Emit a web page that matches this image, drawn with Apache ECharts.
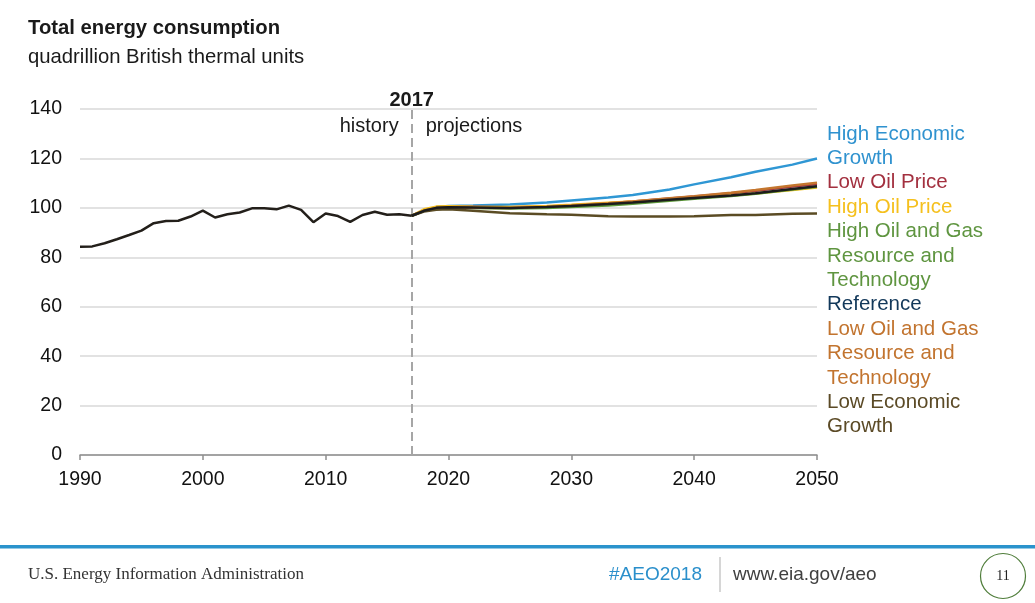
<!DOCTYPE html>
<html>
<head>
<meta charset="utf-8">
<script src="https://cdn.jsdelivr.net/npm/echarts@6/dist/echarts.min.js"></script>
<style>
html,body{margin:0;padding:0;background:#fff;}
#chart{width:1035px;height:603px;}
</style>
</head>
<body>
<div id="chart"></div>
<script>
// ---- data ----
const histYears = [1990,1991,1992,1993,1994,1995,1996,1997,1998,1999,2000,2001,2002,2003,2004,2005,2006,2007,2008,2009,2010,2011,2012,2013,2014,2015,2016,2017];
const histValues = [84.3,84.4,85.7,87.3,89.0,90.8,93.8,94.7,94.8,96.5,98.9,96.1,97.4,98.1,99.8,99.8,99.4,100.9,99.2,94.2,97.7,96.7,94.3,97.1,98.4,97.2,97.4,96.8];

const projYears = [2017,2018,2019,2020,2022,2025,2028,2030,2033,2035,2038,2040,2043,2045,2048,2050];
const highEconomic = [96.8,98.8,100.3,100.8,101.0,101.4,102.2,103.0,104.2,105.2,107.4,109.5,112.4,114.6,117.5,120.0];
const lowOilPrice  = [96.8,99.0,100.2,100.5,100.4,100.2,100.6,101.1,101.9,102.6,103.8,104.6,105.9,106.9,108.6,109.7];
const highOilPrice = [96.8,99.4,100.5,100.6,100.4,100.3,100.8,101.3,102.1,102.6,103.5,104.1,105.0,105.8,107.2,108.2];
const highOilGas   = [96.8,98.8,99.9,100.1,99.9,99.7,99.9,100.3,101.0,101.7,102.9,103.7,104.8,105.7,107.4,108.5];
const lowOilGas    = [96.8,98.9,100.0,100.2,100.0,99.9,100.4,101.0,101.9,102.6,103.9,104.7,106.1,107.2,109.0,110.2];
const lowEconomic  = [96.8,98.5,99.2,99.4,98.8,97.8,97.4,97.2,96.6,96.5,96.5,96.6,97.1,97.1,97.6,97.7];
const reference    = [96.8,98.8,100.0,100.2,100.1,99.9,100.3,100.8,101.6,102.2,103.3,104.0,105.0,105.9,107.6,108.7];

const xTicks = [1990,2000,2010,2020,2030,2040,2050];
const yTicks = [0,20,40,60,80,100,120,140];
const dividerYear = 2017;

const seriesNames = ['High Economic Growth','Low Oil Price','High Oil Price','High Oil and Gas Resource and Technology','Low Oil and Gas Resource and Technology','Low Economic Growth','Reference'];
const seriesValues = [highEconomic,lowOilPrice,highOilPrice,highOilGas,lowOilGas,lowEconomic,reference];
const lineColors = ['#2f97d4','#a3303f','#f7c11f','#5f9b3c','#c4762e','#5b4c24','#1c1c1c'];

const legendLines = [
  ['High Economic','#2f92cf'],['Growth','#2f92cf'],
  ['Low Oil Price','#a3303f'],
  ['High Oil Price','#f5c01e'],
  ['High Oil and Gas','#5f9540'],['Resource and','#5f9540'],['Technology','#5f9540'],
  ['Reference','#12385a'],
  ['Low Oil and Gas','#c2742f'],['Resource and','#c2742f'],['Technology','#c2742f'],
  ['Low Economic','#5b4a26'],['Growth','#5b4a26']
];

const FONT = 'Liberation Sans, Arial, sans-serif';

const chart = echarts.init(document.getElementById('chart'), null, {renderer:'canvas'});

const series = seriesNames.map((n,i)=>({
  name:n, type:'line', symbol:'none', smooth:false,
  data: projYears.map((y,j)=>[y, seriesValues[i][j]]),
  lineStyle:{color:lineColors[i], width:2.5},
  itemStyle:{color:lineColors[i]},
  z: 2 + i
}));
series.push({
  name:'History', type:'line', symbol:'none',
  data: histYears.map((y,j)=>[y, histValues[j]]),
  lineStyle:{color:'#231f1a', width:2.5},
  itemStyle:{color:'#231f1a'},
  z: 20,
  markLine:{
    silent:true, symbol:'none',
    lineStyle:{color:'#a6a6a6', width:2, type:[9,5]},
    label:{show:false},
    data:[{xAxis:dividerYear}]
  }
});

const option = {
  animation:false,
  backgroundColor:'#fff',
  grid:{left:80, right:218, top:109, bottom:148},
  xAxis:{
    type:'value', min:xTicks[0], max:xTicks[xTicks.length-1], interval:10,
    axisLine:{show:true, lineStyle:{color:'#8f8f8f', width:1.5}},
    axisTick:{show:true, length:5, lineStyle:{color:'#8f8f8f', width:1.5}},
    splitLine:{show:false},
    axisLabel:{color:'#111', fontSize:19.5, fontFamily:FONT, margin:15, formatter:v=>String(v)}
  },
  yAxis:{
    type:'value', min:yTicks[0], max:yTicks[yTicks.length-1], interval:20,
    axisLine:{show:false}, axisTick:{show:false},
    splitLine:{lineStyle:{color:'#d9d9d9', width:1.5}},
    axisLabel:{color:'#111', fontSize:19.5, fontFamily:FONT, margin:18}
  },
  series: series
};
chart.setOption(option);

// Annotations positioned through the axes
const divTop = chart.convertToPixel({gridIndex:0},[dividerYear, yTicks[yTicks.length-1]]);
const graphics = [
  {type:'text', x:28, y:28, style:{text:'Total energy consumption', font:'bold 20.3px '+FONT, fill:'#1a1a1a', verticalAlign:'middle'}},
  {type:'text', x:28, y:57, style:{text:'quadrillion British thermal units', font:'20.3px '+FONT, fill:'#1a1a1a', verticalAlign:'middle'}},
  {type:'text', x:divTop[0], y:divTop[1]-9, style:{text:String(dividerYear), font:'bold 20px '+FONT, fill:'#1a1a1a', align:'center', verticalAlign:'middle'}},
  {type:'text', x:divTop[0]-13, y:divTop[1]+17, style:{text:'history', font:'20px '+FONT, fill:'#1a1a1a', align:'right', verticalAlign:'middle'}},
  {type:'text', x:divTop[0]+14, y:divTop[1]+17, style:{text:'projections', font:'20px '+FONT, fill:'#1a1a1a', align:'left', verticalAlign:'middle'}}
];
legendLines.forEach((l,i)=>{
  graphics.push({type:'text', x:827, y:134 + i*24.4, style:{text:l[0], font:'20.5px '+FONT, fill:l[1], align:'left', verticalAlign:'middle'}});
});
// footer
graphics.push(
  {type:'rect', shape:{x:0, y:545, width:1035, height:3.5}, style:{fill:'#2a93cc'}},
  {type:'text', x:28, y:575, style:{text:'U.S. Energy Information Administration', font:'17px Liberation Serif, Times New Roman, serif', fill:'#333', align:'left', verticalAlign:'middle'}},
  {type:'text', x:609, y:575, style:{text:'#AEO2018', font:'19px '+FONT, fill:'#2a8fcb', align:'left', verticalAlign:'middle'}},
  {type:'line', shape:{x1:720, y1:557, x2:720, y2:592}, style:{stroke:'#c8c8c8', lineWidth:1.5}},
  {type:'text', x:733, y:575, style:{text:'www.eia.gov/aeo', font:'19px '+FONT, fill:'#404040', align:'left', verticalAlign:'middle'}},
  {type:'circle', shape:{cx:1003, cy:576, r:22.5}, style:{fill:'none', stroke:'#4f7d3a', lineWidth:1.2}},
  {type:'text', x:1003, y:576, style:{text:'11', font:'14px Liberation Serif, Times New Roman, serif', fill:'#222', align:'center', verticalAlign:'middle'}}
);
chart.setOption({graphic:graphics});
</script>
</body>
</html>
